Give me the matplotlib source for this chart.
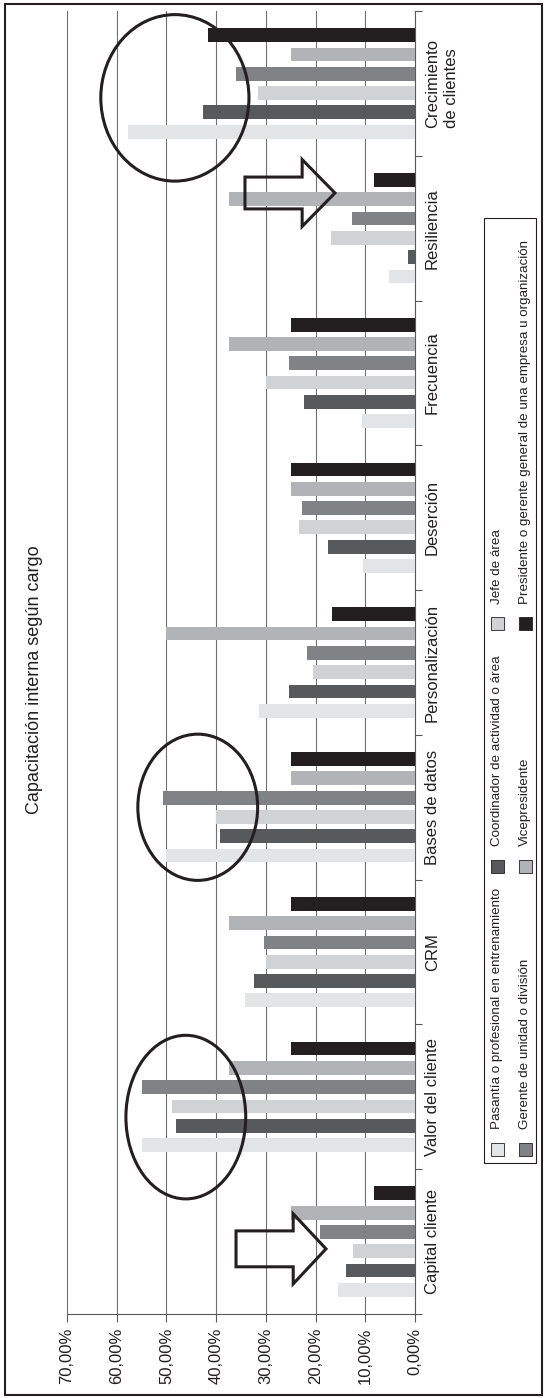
import matplotlib.pyplot as plt
import numpy as np
from matplotlib.patches import Ellipse, Polygon, Rectangle

plt.rcParams['font.family'] = ['Liberation Sans', 'DejaVu Sans']

categorias = ["Capital cliente", "Valor del cliente", "CRM", "Bases de datos",
              "Personalización", "Deserción", "Frecuencia", "Resiliencia",
              "Crecimiento\nde clientes"]

cargos = ["Pasantía o profesional en entrenamiento",
          "Coordinador de actividad o área",
          "Jefe de área",
          "Gerente de unidad o división",
          "Vicepresidente",
          "Presidente o gerente general de una empresa u organización"]

# porcentajes por cargo, en el orden de categorias
pasantia = [15.5, 55.0, 34.1, 50.0, 31.4, 10.4, 10.6, 5.2, 57.8]
coordinador = [13.9, 48.0, 32.4, 39.3, 25.4, 17.4, 22.4, 1.5, 42.7]
jefe = [12.5, 48.9, 30.0, 40.1, 20.6, 23.4, 30.0, 16.8, 31.5]
gerente = [19.2, 55.0, 30.4, 50.6, 21.8, 22.8, 25.4, 12.6, 36.0]
vicepresidente = [25.0, 37.5, 37.5, 25.0, 50.0, 25.0, 37.5, 37.5, 25.0]
presidente = [8.3, 25.0, 25.0, 25.0, 16.7, 25.0, 25.0, 8.3, 41.7]

valores_eje = [0, 10, 20, 30, 40, 50, 60, 70]
etiquetas_eje = ["0,00%", "10,00%", "20,00%", "30,00%", "40,00%", "50,00%", "60,00%", "70,00%"]

colores = ['#e3e4e5', '#58595b', '#d1d2d4', '#808285', '#b1b3b6', '#231f20']
tinta = '#231f20'
gris_eje = '#58595b'

W, H = 547, 1398
fig = plt.figure(figsize=(W / 100, H / 100), dpi=100)
ax = fig.add_axes([67 / W, 1 - 1314 / H, (415 - 67) / W, (1314 - 11) / H])

# barras horizontales, el eje de valores crece hacia la izquierda
y = np.arange(len(categorias))
paso = 0.8 / 6
series = [pasantia, coordinador, jefe, gerente, vicepresidente, presidente]
for i, (vals, col) in enumerate(zip(series, colores)):
    ax.barh(y + (i - 2.5) * paso, vals, height=0.095, color=col, zorder=3)

ax.set_xlim(70, 0)
ax.set_ylim(-0.5, len(categorias) - 0.5)
ax.set_xticks(valores_eje)
ax.set_xticklabels(etiquetas_eje)
ax.tick_params(axis='x', direction='out', length=6, width=0.8, color=gris_eje,
               pad=4, labelsize=12, labelrotation=90, labelcolor=tinta)

ax.yaxis.tick_right()
ax.set_yticks(y)
ax.set_yticklabels(categorias)
ax.set_yticks(np.arange(-0.5, len(categorias)), minor=True)
ax.tick_params(axis='y', which='major', length=0, pad=7, labelsize=12,
               labelrotation=90, labelcolor=tinta)
ax.tick_params(axis='y', which='minor', length=5, width=0.8, direction='out', color=gris_eje)
for lbl in ax.get_yticklabels():
    lbl.set_va('center')
    lbl.set_linespacing(1.35)

for s in ['left', 'top']:
    ax.spines[s].set_visible(False)
for s in ['bottom', 'right']:
    ax.spines[s].set_color(gris_eje)
    ax.spines[s].set_linewidth(0.8)

ax.grid(axis='x', color='#6d6e71', lw=0.8)
ax.set_axisbelow(True)

# circulos y flechas de resaltado
for cx, cy, w, h in [(48.3, 7.90, 29.8, 1.15), (46.1, 0.86, 24.1, 1.13), (43.7, 3.0, 24.1, 1.01)]:
    ax.add_patch(Ellipse((cx, cy), w, h, fill=False, ec=tinta, lw=2.2, zorder=5, clip_on=False))


def flecha(ax, x0, x1, x2, yc, t, c):
    pts = [(x0, yc - t), (x1, yc - t), (x1, yc - c), (x2, yc),
           (x1, yc + c), (x1, yc + t), (x0, yc + t)]
    ax.add_patch(Polygon(pts, closed=True, fill=False, ec=tinta, lw=2.2,
                         joinstyle='miter', zorder=5, clip_on=False))


flecha(ax, 36.0, 24.5, 17.9, -0.05, 0.124, 0.242)
flecha(ax, 34.2, 22.7, 16.1, 7.243, 0.11, 0.231)

# capa en pixeles para marco, titulo y leyenda
ov = fig.add_axes([0, 0, 1, 1], zorder=10)
ov.set_xlim(0, W)
ov.set_ylim(H, 0)
ov.axis('off')
ov.add_patch(Rectangle((5, 4), 537, 1391, fill=False, ec=tinta, lw=1.5))
ov.text(35, 680, "Capacitación interna según cargo", rotation=90,
        ha='center', va='center', fontsize=13, color=tinta)

ov.add_patch(Rectangle((484, 218), 52, 945, fill=False, ec=tinta, lw=0.8))
filas_x = [497, 525]
cols_y = [1149, 866, 623.5]
for i, (nombre, col) in enumerate(zip(cargos, colores)):
    xc = filas_x[i // 3]
    yc = cols_y[i % 3]
    ov.add_patch(Rectangle((xc - 6.5, yc - 6.5), 13, 13, fc=col, ec=tinta, lw=0.6))
    ov.text(xc, yc - 20, nombre, rotation=90, rotation_mode='anchor',
            ha='left', va='center', fontsize=9.6, color=tinta)

fig.savefig('out.png', dpi=100)
